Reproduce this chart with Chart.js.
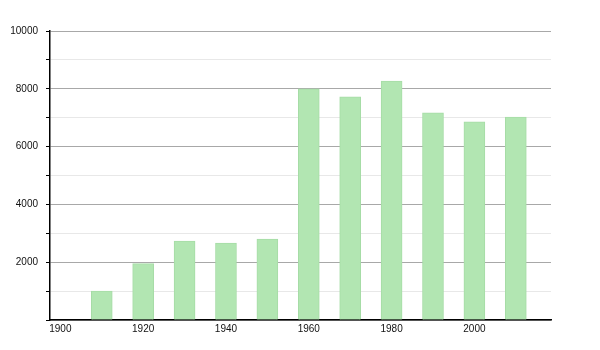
<!DOCTYPE html>
<html>
<head>
<meta charset="utf-8">
<script src="https://cdn.jsdelivr.net/npm/chart.js@4"></script>
<style>
  body { margin: 0; background: #fff; }
</style>
</head>
<body>
<canvas id="chart" width="600" height="350"></canvas>
<script>
const years = [1910, 1920, 1930, 1940, 1950, 1960, 1970, 1980, 1990, 2000, 2010];
const population = [1000, 1950, 2730, 2660, 2800, 8000, 7720, 8270, 7170, 6860, 7020];
const xTickYears = [1900, 1920, 1940, 1960, 1980, 2000];

const ctx = document.getElementById("chart").getContext("2d");

new Chart(ctx, {
  type: "bar",
  data: {
    datasets: [{
      data: years.map((y, i) => ({ x: y, y: population[i] })),
      backgroundColor: "#b2e6b2",
      borderColor: "#a6dca6",
      borderWidth: 1,
      barThickness: 21
    }]
  },
  options: {
    responsive: false,
    animation: false,
    layout: { padding: { top: 31, right: 49, left: 0, bottom: 0 } },
    plugins: {
      legend: { display: false },
      tooltip: { enabled: false }
    },
    scales: {
      x: {
        type: "linear",
        offset: false,
        min: 1897.5,
        max: 2018.5,
        afterBuildTicks: (scale) => {
          scale.ticks = xTickYears.map(v => ({ value: v }));
        },
        afterFit: (scale) => { scale.height = 30; },
        grid: { display: false, drawTicks: false },
        border: { color: "#000", width: 1.5 },
        ticks: {
          padding: 3,
          maxRotation: 0,
          color: "#111",
          font: { family: "Liberation Sans", size: 10 },
          callback: (v) => String(v)
        }
      },
      y: {
        min: 0,
        max: 10000,
        afterFit: (scale) => { scale.width = 50; },
        grid: {
          color: (c) => (c.tick && c.tick.value % 2000 === 0) ? "#a8a8a8" : "#e8e8e8",
          tickColor: "#000",
          tickLength: 4
        },
        border: { color: "#000", width: 1.5 },
        ticks: {
          stepSize: 1000,
          padding: 8,
          color: "#111",
          font: { family: "Liberation Sans", size: 10 },
          callback: (v) => (v % 2000 === 0 && v !== 0) ? String(v) : ""
        }
      }
    }
  }
});
</script>
</body>
</html>
